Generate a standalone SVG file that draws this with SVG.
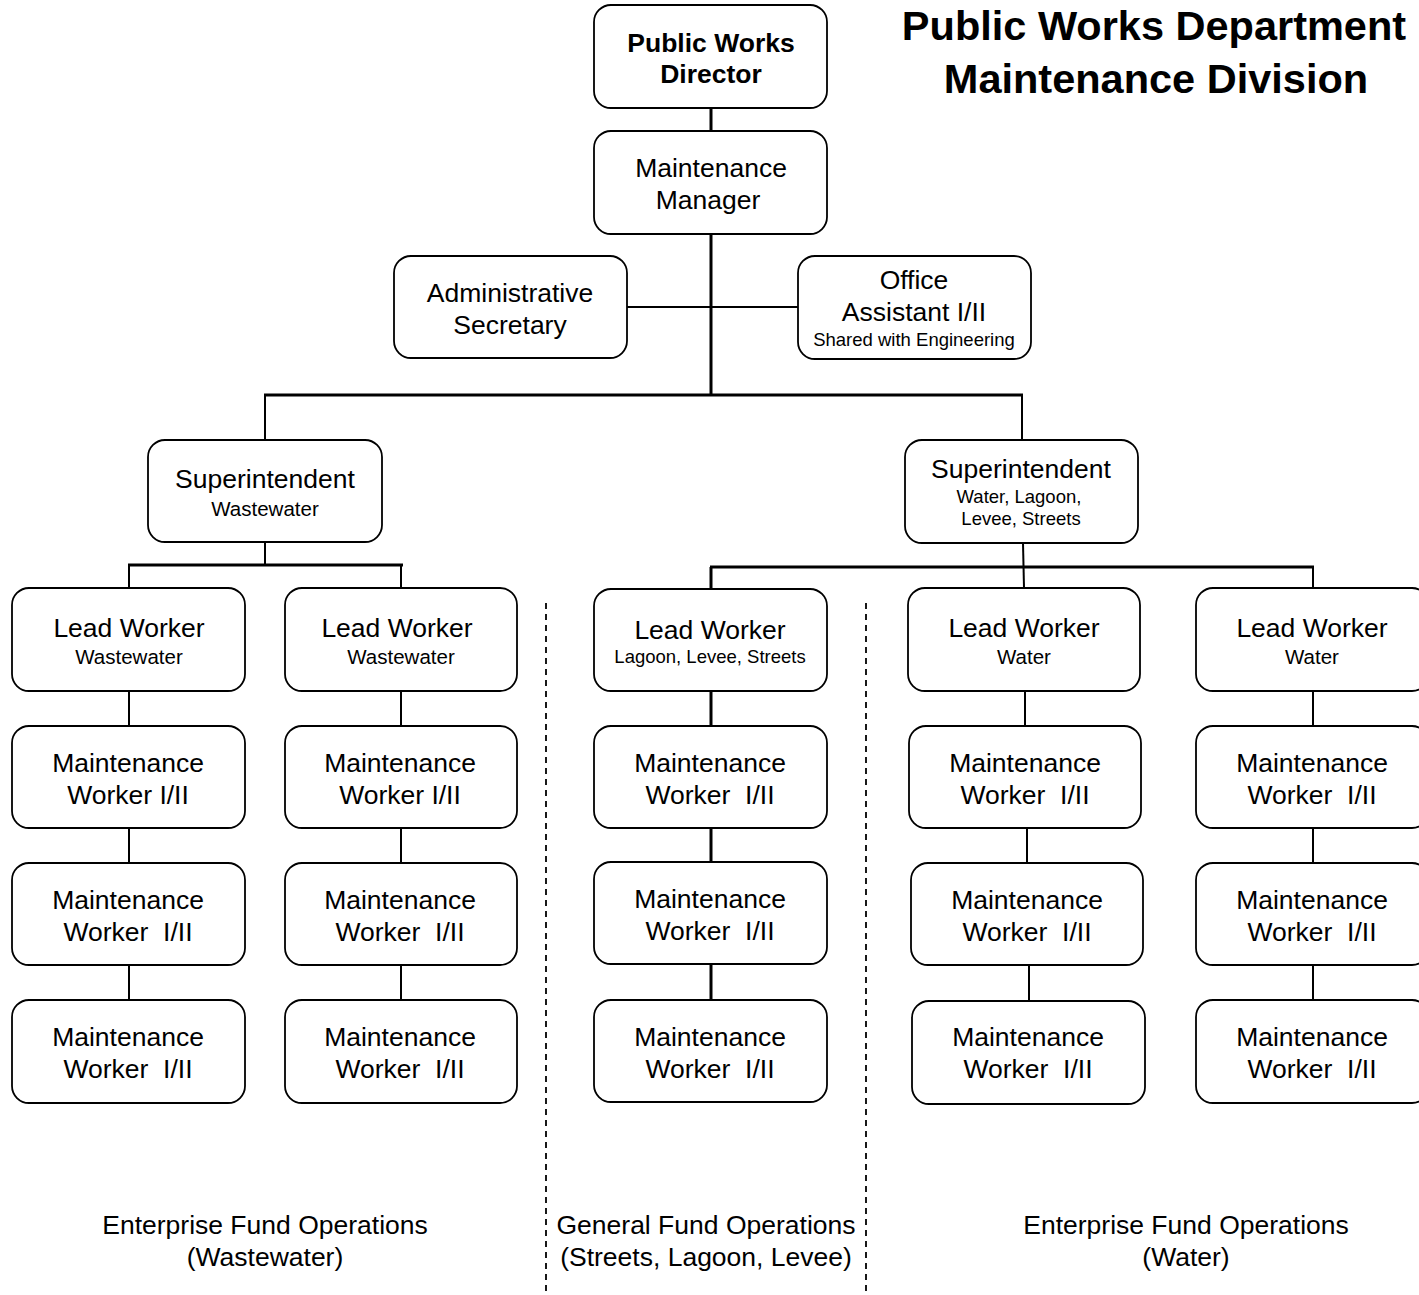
<svg xmlns="http://www.w3.org/2000/svg" width="1419" height="1295" viewBox="0 0 1419 1295">
  <style>
    .box { fill: #ffffff; stroke: #000000; stroke-width: 1.8; }
    .t { font-family: "Liberation Sans", Arial, sans-serif; font-size: 26.5px; fill: #000000; text-anchor: middle; }
    .b { font-weight: bold; }
    .s { font-size: 18.5px; }
    .m { font-size: 20.5px; }
    .title { font-family: "Liberation Sans", Arial, sans-serif; font-size: 41.5px; font-weight: bold; fill: #000000; text-anchor: middle; }
    .c3 { stroke: #000000; stroke-width: 3; fill: none; }
    .c2 { stroke: #000000; stroke-width: 2; fill: none; }
    .dash { stroke: #000000; stroke-width: 1.8; stroke-dasharray: 6 5; fill: none; }
  </style>
  <rect width="1419" height="1295" fill="#ffffff"/>

  <!-- Title -->
  <g id="title">
    <text class="title" x="1154" y="40">Public Works Department</text>
    <text class="title" x="1156" y="93">Maintenance Division</text>
  </g>

  <!-- Fund separators -->
  <g id="separators">
    <line class="dash" x1="546" y1="603" x2="546" y2="1295"/>
    <line class="dash" x1="866" y1="603" x2="866" y2="1295"/>
  </g>

  <!-- Connectors -->
  <g id="connectors">
    <line class="c3" x1="711" y1="108" x2="711" y2="131"/>
    <line class="c3" x1="711" y1="234" x2="711" y2="396"/>
    <line class="c2" x1="627" y1="307" x2="798" y2="307"/>
    <line class="c3" x1="264" y1="395" x2="1023" y2="395"/>
    <line class="c2" x1="265" y1="395" x2="265" y2="440"/>
    <line class="c2" x1="1022" y1="395" x2="1022" y2="440"/>
    <!-- wastewater branch -->
    <line class="c2" x1="265" y1="542" x2="265" y2="565"/>
    <line class="c3" x1="128" y1="565" x2="403" y2="565"/>
    <line class="c2" x1="129" y1="565" x2="129" y2="588"/>
    <line class="c2" x1="401" y1="565" x2="401" y2="588"/>
    <!-- water / streets branch -->
    <line class="c2" x1="1023" y1="543" x2="1024" y2="588"/>
    <line class="c3" x1="710" y1="567" x2="1314" y2="567"/>
    <line class="c3" x1="711" y1="567" x2="711" y2="589"/>
    <line class="c2" x1="1313" y1="567" x2="1313" y2="588"/>
    <!-- column chains -->
    <line class="c2" x1="129" y1="691" x2="129" y2="726"/>
    <line class="c2" x1="129" y1="828" x2="129" y2="863"/>
    <line class="c2" x1="129" y1="965" x2="129" y2="1000"/>
    <line class="c2" x1="401" y1="691" x2="401" y2="726"/>
    <line class="c2" x1="401" y1="828" x2="401" y2="863"/>
    <line class="c2" x1="401" y1="965" x2="401" y2="1000"/>
    <line class="c3" x1="711" y1="691" x2="711" y2="726"/>
    <line class="c3" x1="711" y1="828" x2="711" y2="862"/>
    <line class="c3" x1="711" y1="964" x2="711" y2="1000"/>
    <line class="c2" x1="1025" y1="691" x2="1025" y2="726"/>
    <line class="c2" x1="1027" y1="828" x2="1027" y2="863"/>
    <line class="c2" x1="1029" y1="965" x2="1029" y2="1001"/>
    <line class="c2" x1="1313" y1="691" x2="1313" y2="726"/>
    <line class="c2" x1="1313" y1="828" x2="1313" y2="863"/>
    <line class="c2" x1="1313" y1="965" x2="1313" y2="1000"/>
  </g>

  <!-- Management -->
  <g id="director">
    <rect class="box" x="594" y="5" width="233" height="103" rx="17"/>
    <text class="t b" x="711" y="52">Public Works</text>
    <text class="t b" x="711" y="83">Director</text>
  </g>
  <g id="manager">
    <rect class="box" x="594" y="131" width="233" height="103" rx="17"/>
    <text class="t" x="711" y="177">Maintenance</text>
    <text class="t" x="708" y="209">Manager</text>
  </g>
  <g id="admin-secretary">
    <rect class="box" x="394" y="256" width="233" height="102" rx="17"/>
    <text class="t" x="510" y="302">Administrative</text>
    <text class="t" x="510" y="334">Secretary</text>
  </g>
  <g id="office-assistant">
    <rect class="box" x="798" y="256" width="233" height="103" rx="17"/>
    <text class="t" x="914" y="289">Office</text>
    <text class="t" x="914" y="321">Assistant I/II</text>
    <text class="t s" x="914" y="346">Shared with Engineering</text>
  </g>
  <g id="supt-wastewater">
    <rect class="box" x="148" y="440" width="234" height="102" rx="17"/>
    <text class="t" x="265" y="488">Superintendent</text>
    <text class="t m" x="265" y="516">Wastewater</text>
  </g>
  <g id="supt-water">
    <rect class="box" x="905" y="440" width="233" height="103" rx="17"/>
    <text class="t" x="1021" y="478">Superintendent</text>
    <text class="t s" x="1019" y="503">Water, Lagoon,</text>
    <text class="t s" x="1021" y="525">Levee, Streets</text>
  </g>

  <!-- Wastewater column 1 -->
  <g id="lead-ww-1">
    <rect class="box" x="12" y="588" width="233" height="103" rx="17"/>
    <text class="t" x="129" y="637">Lead Worker</text>
    <text class="t m" x="129" y="664">Wastewater</text>
  </g>
  <g id="mw-ww-1a">
    <rect class="box" x="12" y="726" width="233" height="102" rx="17"/>
    <text class="t" x="128" y="772">Maintenance</text>
    <text class="t" x="128" y="804">Worker I/II</text>
  </g>
  <g id="mw-ww-1b">
    <rect class="box" x="12" y="863" width="233" height="102" rx="17"/>
    <text class="t" x="128" y="909">Maintenance</text>
    <text class="t" x="128" y="941">Worker&#160; I/II</text>
  </g>
  <g id="mw-ww-1c">
    <rect class="box" x="12" y="1000" width="233" height="103" rx="17"/>
    <text class="t" x="128" y="1046">Maintenance</text>
    <text class="t" x="128" y="1078">Worker&#160; I/II</text>
  </g>

  <!-- Wastewater column 2 -->
  <g id="lead-ww-2">
    <rect class="box" x="285" y="588" width="232" height="103" rx="17"/>
    <text class="t" x="397" y="637">Lead Worker</text>
    <text class="t m" x="401" y="664">Wastewater</text>
  </g>
  <g id="mw-ww-2a">
    <rect class="box" x="285" y="726" width="232" height="102" rx="17"/>
    <text class="t" x="400" y="772">Maintenance</text>
    <text class="t" x="400" y="804">Worker I/II</text>
  </g>
  <g id="mw-ww-2b">
    <rect class="box" x="285" y="863" width="232" height="102" rx="17"/>
    <text class="t" x="400" y="909">Maintenance</text>
    <text class="t" x="400" y="941">Worker&#160; I/II</text>
  </g>
  <g id="mw-ww-2c">
    <rect class="box" x="285" y="1000" width="232" height="103" rx="17"/>
    <text class="t" x="400" y="1046">Maintenance</text>
    <text class="t" x="400" y="1078">Worker&#160; I/II</text>
  </g>

  <!-- Streets / lagoon / levee column -->
  <g id="lead-streets">
    <rect class="box" x="594" y="589" width="233" height="102" rx="17"/>
    <text class="t" x="710" y="639">Lead Worker</text>
    <text class="t s" x="710" y="663">Lagoon, Levee, Streets</text>
  </g>
  <g id="mw-streets-a">
    <rect class="box" x="594" y="726" width="233" height="102" rx="17"/>
    <text class="t" x="710" y="772">Maintenance</text>
    <text class="t" x="710" y="804">Worker&#160; I/II</text>
  </g>
  <g id="mw-streets-b">
    <rect class="box" x="594" y="862" width="233" height="102" rx="17"/>
    <text class="t" x="710" y="908">Maintenance</text>
    <text class="t" x="710" y="940">Worker&#160; I/II</text>
  </g>
  <g id="mw-streets-c">
    <rect class="box" x="594" y="1000" width="233" height="102" rx="17"/>
    <text class="t" x="710" y="1046">Maintenance</text>
    <text class="t" x="710" y="1078">Worker&#160; I/II</text>
  </g>

  <!-- Water column 1 -->
  <g id="lead-water-1">
    <rect class="box" x="908" y="588" width="232" height="103" rx="17"/>
    <text class="t" x="1024" y="637">Lead Worker</text>
    <text class="t m" x="1024" y="664">Water</text>
  </g>
  <g id="mw-water-1a">
    <rect class="box" x="909" y="726" width="232" height="102" rx="17"/>
    <text class="t" x="1025" y="772">Maintenance</text>
    <text class="t" x="1025" y="804">Worker&#160; I/II</text>
  </g>
  <g id="mw-water-1b">
    <rect class="box" x="911" y="863" width="232" height="102" rx="17"/>
    <text class="t" x="1027" y="909">Maintenance</text>
    <text class="t" x="1027" y="941">Worker&#160; I/II</text>
  </g>
  <g id="mw-water-1c">
    <rect class="box" x="912" y="1001" width="233" height="103" rx="17"/>
    <text class="t" x="1028" y="1046">Maintenance</text>
    <text class="t" x="1028" y="1078">Worker&#160; I/II</text>
  </g>

  <!-- Water column 2 -->
  <g id="lead-water-2">
    <rect class="box" x="1196" y="588" width="233" height="103" rx="17"/>
    <text class="t" x="1312" y="637">Lead Worker</text>
    <text class="t m" x="1312" y="664">Water</text>
  </g>
  <g id="mw-water-2a">
    <rect class="box" x="1196" y="726" width="233" height="102" rx="17"/>
    <text class="t" x="1312" y="772">Maintenance</text>
    <text class="t" x="1312" y="804">Worker&#160; I/II</text>
  </g>
  <g id="mw-water-2b">
    <rect class="box" x="1196" y="863" width="233" height="102" rx="17"/>
    <text class="t" x="1312" y="909">Maintenance</text>
    <text class="t" x="1312" y="941">Worker&#160; I/II</text>
  </g>
  <g id="mw-water-2c">
    <rect class="box" x="1196" y="1000" width="233" height="103" rx="17"/>
    <text class="t" x="1312" y="1046">Maintenance</text>
    <text class="t" x="1312" y="1078">Worker&#160; I/II</text>
  </g>

  <!-- Fund labels -->
  <g id="fund-labels">
    <text class="t" x="265" y="1234">Enterprise Fund Operations</text>
    <text class="t" x="265" y="1266">(Wastewater)</text>
    <text class="t" x="706" y="1234">General Fund Operations</text>
    <text class="t" x="706" y="1266">(Streets, Lagoon, Levee)</text>
    <text class="t" x="1186" y="1234">Enterprise Fund Operations</text>
    <text class="t" x="1186" y="1266">(Water)</text>
  </g>
</svg>
